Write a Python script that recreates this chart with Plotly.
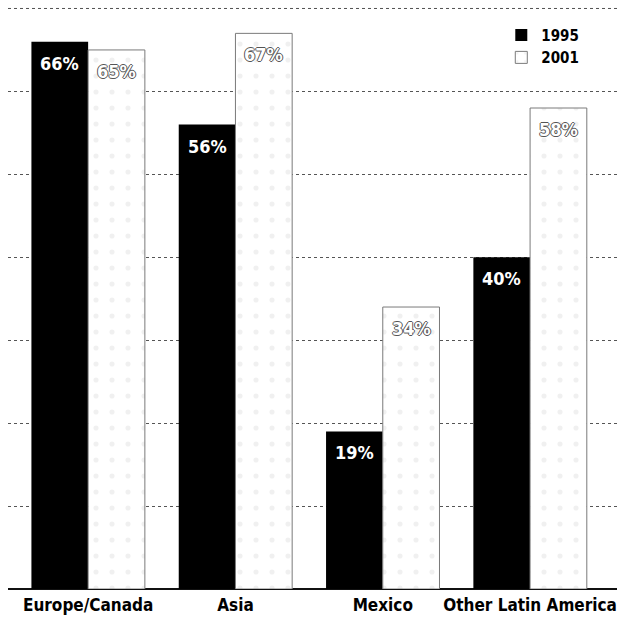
import plotly.graph_objects as go

regions = ["Europe/Canada", "Asia", "Mexico", "Other Latin America"]
share_1995 = [66, 56, 19, 40]
share_2001 = [65, 67, 34, 58]
y_ticks = [10, 20, 30, 40, 50, 60, 70]

FONT = "DejaVu Sans Condensed, Liberation Sans Narrow, Arial Narrow, sans-serif"

BARGAP = 0.23
X_RANGE = [-0.544, 3.59]
PLOT_W = 625 - 8 - 8
# pixel offset of each bar's centre from its category centre
unit_px = PLOT_W / (X_RANGE[1] - X_RANGE[0])
half_offset = (1 - BARGAP) / 4 * unit_px

fig = go.Figure()

fig.add_trace(go.Bar(
    name="1995",
    x=regions,
    y=share_1995,
    marker=dict(color="#000000", line=dict(color="#000000", width=0)),
))

fig.add_trace(go.Bar(
    name="2001",
    x=regions,
    y=share_2001,
    marker=dict(
        color="#ffffff",
        line=dict(color="#7a7a7a", width=1),
        pattern=dict(shape=".", fgcolor="#e2e2e2", bgcolor="#ffffff",
                     size=16, solidity=0.08),
    ),
))

# top rule at the highest tick, drawn beneath the bars
fig.add_shape(
    type="line", xref="paper", x0=0, x1=1, yref="y",
    y0=y_ticks[-1], y1=y_ticks[-1], layer="below",
    line=dict(color="#555555", width=1, dash="dot"),
)

# value labels just under the top of each bar
for region, v in zip(regions, share_1995):
    fig.add_annotation(
        x=region, y=v, text=f"{v}%", showarrow=False,
        xanchor="center", yanchor="top", xshift=-half_offset, yshift=-9,
        font=dict(family=FONT, size=18, color="#ffffff", weight="bold"),
    )
for region, v in zip(regions, share_2001):
    fig.add_annotation(
        x=region, y=v, text=f"{v}%", showarrow=False,
        xanchor="center", yanchor="top", xshift=half_offset, yshift=-9,
        font=dict(
            family=FONT, size=18, color="#ffffff", weight="bold",
            shadow="1px 0 0 #555, -1px 0 0 #555, 0 1px 0 #555, 0 -1px 0 #555",
        ),
    )

fig.update_layout(
    width=625,
    height=618,
    margin=dict(l=8, r=8, t=4, b=29),
    paper_bgcolor="#ffffff",
    plot_bgcolor="#ffffff",
    barmode="group",
    bargap=BARGAP,
    bargroupgap=0.0,
    showlegend=True,
    legend=dict(
        x=0.81, y=0.975, xanchor="left", yanchor="top",
        bgcolor="rgba(0,0,0,0)",
        font=dict(family=FONT, size=15, color="#000000", weight="bold"),
        itemwidth=30,
        tracegroupgap=0,
    ),
    xaxis=dict(
        range=X_RANGE,
        showgrid=False,
        showline=False,
        ticks="",
        automargin=False,
        ticklabelstandoff=4,
        tickfont=dict(family=FONT, size=17, color="#000000", weight="bold"),
    ),
    yaxis=dict(
        range=[0, 70.54],
        tickvals=y_ticks,
        showticklabels=False,
        showgrid=True,
        gridcolor="#555555",
        gridwidth=1,
        griddash="dot",
        zeroline=True,
        zerolinecolor="#111111",
        zerolinewidth=2,
        showline=False,
        ticks="",
    ),
)

fig.write_html("out.html")
